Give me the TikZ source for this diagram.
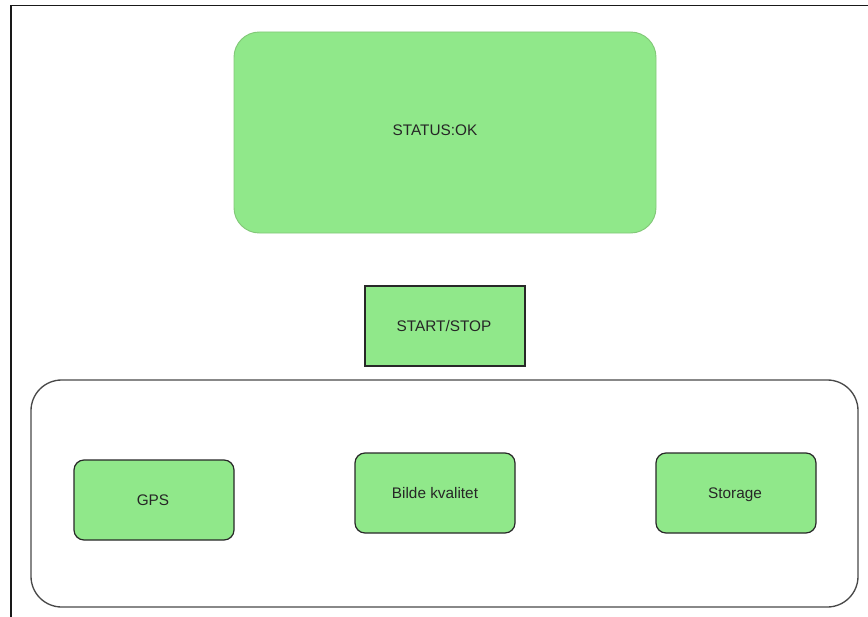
\documentclass[tikz,border=0pt]{standalone}
\usepackage{fontspec}
\setmainfont{Liberation Sans}
\definecolor{boxgreen}{RGB}{144,232,138}
\definecolor{softgreen}{RGB}{130,200,120}
\definecolor{edgegray}{RGB}{40,40,40}
\begin{document}
\begin{tikzpicture}[x=0.75pt,y=-0.75pt,
  lbl/.style={font=\fontsize{11.5}{13}\selectfont, text=black!85,
    text height=8.2pt, text depth=2.4pt, yshift=-1.5pt},
  panel/.style={draw=edgegray, line width=0.9pt, fill=boxgreen},
  tile/.style={panel, rounded corners=7.5pt}]
  \useasboundingbox (0,0) rectangle (868,617);
  % frame lines
  \draw[line width=1.2pt, black!90] (11,617) -- (11,5.5) -- (868,5.5);
  % status banner
  \draw[draw=softgreen, line width=0.7pt, fill=boxgreen, rounded corners=19pt]
    (234,32) rectangle (656,233);
  \node[lbl] (status) at (435,130) {STATUS:OK};
  % start/stop button
  \draw[panel] (365,286) rectangle (525,366);
  \node[lbl] (startstop) at (444,326) {START/STOP};
  % container for the indicators
  \draw[draw=edgegray!85, line width=1pt, rounded corners=23pt] (31,380) rectangle (858,607);
  % indicators
  \draw[tile] (74,460) rectangle (234,540);
  \node[lbl] (gps) at (153,500) {GPS};
  \draw[tile] (355,453) rectangle (515,533);
  \node[lbl] (bilde) at (435,493) {Bilde kvalitet};
  \draw[tile] (656,453) rectangle (816,533);
  \node[lbl] (storage) at (735,493) {Storage};
\end{tikzpicture}
\end{document}
